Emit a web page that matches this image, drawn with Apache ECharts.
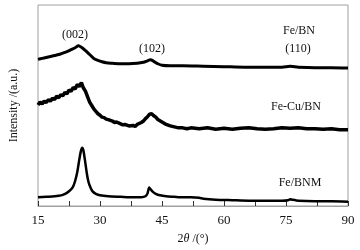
<!DOCTYPE html>
<html>
<head>
<meta charset="utf-8">
<script src="https://cdn.jsdelivr.net/npm/echarts@6/dist/echarts.min.js"></script>
<style>
html, body { margin: 0; padding: 0; background: #fff; }
#main { width: 360px; height: 250px; }
</style>
</head>
<body>
<div id="main"></div>
<script>
// 2theta (deg) and intensity (arbitrary, offset stacked)
var feBnX = [15,16,17,18,19,20,21,22,23,24,24.8,25.5,26.5,27.5,28.5,29.5,30.5,31.5,33,35,37,39,40.5,41.5,42.2,43,44,45,47,50,55,60,65,70,74,76,78,82,86,90];
var feBnY = [151,152,153,154,155,156,157.5,159,161,163,165,163.5,160,156,152,150,148.5,147.5,147,146.5,146.5,147,148,149.5,150.5,149,146.5,145,144.5,144.5,144,143.5,143,143,143,143.8,143,142.5,142.5,142];

var feCuX = [15,15.5,16,16.5,17,17.5,18,18.5,19,19.5,20,20.5,21,21.5,22,22.5,23,23.5,24,24.5,25,25.5,26,26.5,27,27.5,28,28.5,29,29.5,30,30.5,31,31.5,32,33,33.5,34,35,35.5,36,37,38,38.5,39,40,40.5,41,41.5,42,42.5,43,43.5,44,45,46,47,48,49,50,51,52,54,56,58,60,62,64,66,68,70,72,74,76,78,80,82,84,86,88,90];
var feCuY = [104,107,105,108,106.5,109.5,108,111,109.5,113,111.5,114.5,113.5,117,115.5,119.5,118,122,120.5,125,123,127,121.5,118,112.5,107,103.5,100,97.5,95,93.5,91.5,91,89.5,89,87.5,86,86.5,84.5,83.5,84,82.5,83,82,84,86,87.5,90,92,94.5,95,93,91.5,89,86.5,84,82.5,81.5,80.5,80.5,79.5,80.5,79.5,80.5,79,80,79,80,80.5,79.5,79,79.5,80.5,80,80.5,79.5,79.5,79,79.5,78.5,78.5];

var feBnmX = [15,17,19,20,21,22,23,23.5,24,24.5,25,25.4,25.7,26,26.4,26.8,27.2,27.7,28.2,29,30,32,35,38,40,41,41.5,41.9,42.3,42.8,43.5,44.5,46,48,50,52,54,55,58,62,66,70,74,75.5,76,76.5,78,82,86,90];
var feBnmY = [9,9.5,10,10.5,11.5,13.5,17,20,26,35,48,57,60,57,46,34,25,19,15,12.5,11,10,9.5,9,9,10,13,19,17,14.5,12.5,11,10,9.5,9,9,8.5,7.5,6.5,6,5.5,5.5,5.5,6,7,6.5,5.5,5,5,4.5];

var xTicks = [15, 30, 45, 60, 75, 90];

function pairs(xs, ys) {
  return xs.map(function (x, i) { return [x, ys[i]]; });
}

var serif = '"Liberation Serif", "DejaVu Serif", serif';

var myChart = echarts.init(document.getElementById('main'));
var option = {
  animation: false,
  grid: {
    left: 33, right: 12, top: 5, bottom: 38,
    show: true, borderColor: '#a0a0a0', borderWidth: 1
  },
  xAxis: {
    type: 'value',
    min: 15, max: 90, interval: 7.5,
    name: '{n|2}{t|θ}{n| /(°)}',
    nameLocation: 'middle',
    nameGap: 27,
    nameTextStyle: {
      rich: {
        n: { fontFamily: serif, fontSize: 12, color: '#111' },
        t: { fontFamily: serif, fontSize: 12, fontStyle: 'italic', color: '#111' }
      }
    },
    axisLine: { lineStyle: { color: '#a0a0a0' } },
    axisTick: { inside: true, length: 5, lineStyle: { color: '#333' } },
    splitLine: { show: false },
    axisLabel: {
      margin: 8,
      fontFamily: serif, fontSize: 13, color: '#111',
      formatter: function (v) { return xTicks.indexOf(v) >= 0 ? String(v) : ''; }
    }
  },
  yAxis: {
    type: 'value',
    min: 0, max: 207,
    name: 'Intensity /(a.u.)',
    nameLocation: 'middle',
    nameGap: 18,
    nameTextStyle: { fontFamily: serif, fontSize: 12, color: '#111' },
    axisLine: { show: false },
    axisTick: { show: false },
    axisLabel: { show: false },
    splitLine: { show: false }
  },
  series: [
    {
      name: 'Fe/BN', type: 'line', showSymbol: false, smooth: 0.3,
      lineStyle: { color: '#000', width: 3 },
      data: pairs(feBnX, feBnY)
    },
    {
      name: 'Fe-Cu/BN', type: 'line', showSymbol: false,
      lineStyle: { color: '#000', width: 3.5 },
      data: pairs(feCuX, feCuY)
    },
    {
      name: 'Fe/BNM', type: 'line', showSymbol: false, smooth: 0.2,
      lineStyle: { color: '#000', width: 2.5 },
      data: pairs(feBnmX, feBnmY)
    }
  ]
};

var labels = [
  { text: '(002)', x: 75, y: 35 },
  { text: '(102)', x: 152, y: 49 },
  { text: 'Fe/BN', x: 299, y: 31 },
  { text: '(110)', x: 298, y: 49 },
  { text: 'Fe-Cu/BN', x: 296, y: 107 },
  { text: 'Fe/BNM', x: 300, y: 183 }
];
option.graphic = labels.map(function (l) {
  return {
    type: 'text', x: l.x, y: l.y,
    style: {
      text: l.text, fill: '#111', font: '12px ' + serif,
      textAlign: 'center', textVerticalAlign: 'middle'
    }
  };
});

myChart.setOption(option);
</script>
</body>
</html>
